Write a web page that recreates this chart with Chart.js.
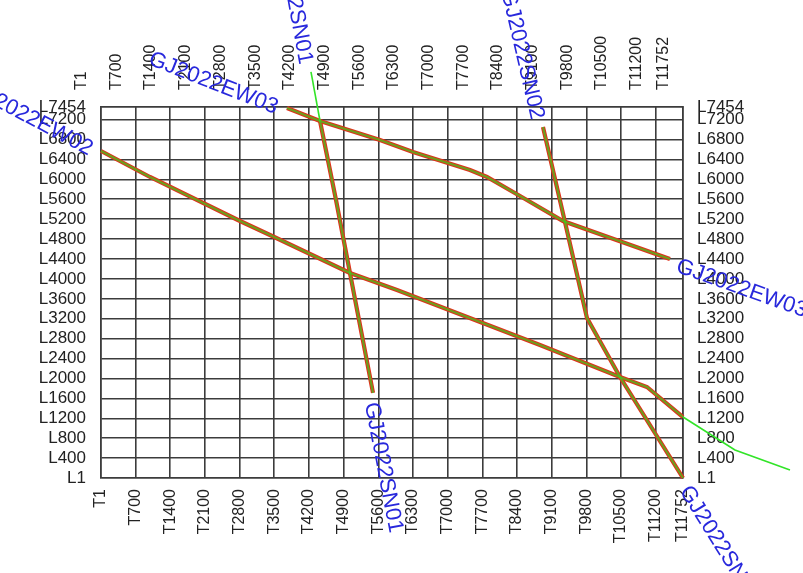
<!DOCTYPE html>
<html>
<head>
<meta charset="utf-8">
<script src="https://cdn.jsdelivr.net/npm/chart.js@4/dist/chart.umd.min.js"></script>
<style>
html,body{margin:0;padding:0;background:#fff}
#wrap{width:803px;height:573px;position:relative}
</style>
</head>
<body>
<div id="wrap"><canvas id="c"></canvas></div>
<script>
// Axis ticks (trace numbers T..., line numbers L...)
const xTicks = [1,700,1400,2100,2800,3500,4200,4900,5600,6300,7000,7700,8400,9100,9800,10500,11200,11752];
const yTicks = [1,400,800,1200,1600,2000,2400,2800,3200,3600,4000,4400,4800,5200,5600,6000,6400,6800,7200,7454];

// Survey line names
const lineNames = ['GJ2022EW03','GJ2022EW02','GJ2022SN01','GJ2022SN02'];

// Planned (red) paths: trace / line
const ew03PlanT = [3756,4423,5634,6300,7451,7794,8461,9329,11489];
const ew03PlanL = [7434,7173,6791,6550,6189,6048,5666,5164,4401];
const ew02PlanT = [1,990,2807,3413,5028,5977,8864,10480,11025,11752];
const ew02PlanL = [6570,6048,5164,4883,4119,3778,2673,2030,1829,1226];
const sn01PlanT = [4423,4746,5028,5493];
const sn01PlanL = [7173,5586,4119,1709];
const sn02PlanT = [8925,9369,9753,9813,10480,11752];
const sn02PlanL = [7053,5144,3477,3215,2030,1];

// Actual (green) paths: trace / line
const ew03ActT = [3756,4423,5634,6300,7451,7794,8461,9329,11489];
const ew03ActL = [7434,7173,6791,6550,6189,6048,5666,5164,4401];
const ew02ActT = [1,990,2807,3413,5028,5977,8864,10480,11025,11752,12801,13912];
const ew02ActL = [6570,6048,5164,4883,4119,3778,2673,2030,1829,1226,564,162];
const sn01ActT = [4241,4423,4746,5028,5493];
const sn01ActL = [8158,7173,5586,4119,1709];
const sn02ActT = [8925,9369,9753,9813,10480,11752];
const sn02ActL = [7053,5144,3477,3215,2030,1];

const surveyLines = [
  {name:lineNames[0], pT:ew03PlanT, pL:ew03PlanL, aT:ew03ActT, aL:ew03ActL, endLabel:true},
  {name:lineNames[1], pT:ew02PlanT, pL:ew02PlanL, aT:ew02ActT, aL:ew02ActL, endLabel:false},
  {name:lineNames[2], pT:sn01PlanT, pL:sn01PlanL, aT:sn01ActT, aL:sn01ActL, endLabel:true},
  {name:lineNames[3], pT:sn02PlanT, pL:sn02PlanL, aT:sn02ActT, aL:sn02ActL, endLabel:true}
];

const xMax = xTicks[xTicks.length - 1], yMax = yTicks[yTicks.length - 1];
const toPts = (T, L) => T.map((t, i) => ({x: t, y: L[i]}));
const outside = d => d.x > xMax || d.y > yMax || d.x < xTicks[0] || d.y < yTicks[0];

const datasets = [];
surveyLines.forEach(s => {
  const act = toPts(s.aT, s.aL);
  datasets.push({label: s.name + ' actual', data: act, borderColor: 'rgba(40,225,30,0.62)',
    segment: {
      borderColor: c => (outside(act[c.p0DataIndex]) || outside(act[c.p1DataIndex])) ? 'rgb(50,228,40)' : 'rgba(40,225,30,0.62)',
      borderWidth: c => (outside(act[c.p0DataIndex]) || outside(act[c.p1DataIndex])) ? 1.6 : 2.2
    },
    borderWidth: 2.2, pointRadius: 0, showLine: true, tension: 0, clip: false, order: 0, xAxisID:'x', yAxisID:'y'});
  datasets.push({label: s.name + ' planned', data: toPts(s.pT, s.pL), borderColor: '#e0301c',
    borderWidth: 4.2, pointRadius: 0, showLine: true, tension: 0, clip: false, order: 1, xAxisID:'x', yAxisID:'y'});
});

const lineLabels = {
  id: 'lineLabels',
  afterDatasetsDraw(chart) {
    const {ctx} = chart;
    const xs = chart.scales.x, ys = chart.scales.y;
    ctx.save();
    ctx.font = '22px "Liberation Sans", Arial, sans-serif';
    ctx.fillStyle = '#2828dc';
    ctx.textBaseline = 'middle';
    const gap = 9, off = 4;
    surveyLines.forEach(s => {
      const pts = s.aT.map((t, i) => ({x: xs.getPixelForValue(t), y: ys.getPixelForValue(s.aL[i])}));
      // start label
      let p0 = pts[0], p1 = pts[1];
      let a = Math.atan2(p1.y - p0.y, p1.x - p0.x);
      ctx.save();
      ctx.translate(p0.x - gap * Math.cos(a), p0.y - gap * Math.sin(a));
      ctx.rotate(a);
      ctx.textAlign = 'right';
      ctx.fillText(s.name, 0, off);
      ctx.restore();
      if (!s.endLabel) return;
      // end label
      const n = pts.length;
      p0 = pts[n - 2]; p1 = pts[n - 1];
      a = Math.atan2(p1.y - p0.y, p1.x - p0.x);
      ctx.save();
      ctx.translate(p1.x + gap * Math.cos(a), p1.y + gap * Math.sin(a));
      ctx.rotate(a);
      ctx.textAlign = 'left';
      ctx.fillText(s.name, 0, off);
      ctx.restore();
    });
    ctx.restore();
  }
};

const gridColor = '#3c3c3c';
const setTicks = vals => scale => {
  scale.ticks = vals.map(v => ({value: v}));
  scale.min = vals[0];
  scale.max = vals[vals.length - 1];
};
const setLimits = vals => scale => { scale.min = vals[0]; scale.max = vals[vals.length - 1]; };

function xScale(pos, size, pad, main) {
  return {
    type: 'linear', position: pos, bounds: 'data',
    afterDataLimits: setLimits(xTicks),
    afterBuildTicks: setTicks(xTicks),
    afterFit: s => { s.height = size; },
    grid: {display: true, drawOnChartArea: main, drawTicks: false, color: gridColor, lineWidth: 1.6},
    border: {display: true, color: gridColor, width: 1.6},
    ticks: {autoSkip: false, minRotation: 90, maxRotation: 90, padding: pad, color: '#222',
      font: {size: 16, family: '"Liberation Sans", Arial, sans-serif'}, callback: v => 'T' + v}
  };
}
function yScale(pos, size, pad, main) {
  return {
    type: 'linear', position: pos, bounds: 'data',
    afterDataLimits: setLimits(yTicks),
    afterBuildTicks: setTicks(yTicks),
    afterFit: s => { s.width = size; },
    grid: {display: true, drawOnChartArea: main, drawTicks: false, color: gridColor, lineWidth: 1.6},
    border: {display: true, color: gridColor, width: 1.6},
    ticks: {autoSkip: false, padding: pad, color: '#222',
      font: {size: 17, family: '"Liberation Sans", Arial, sans-serif'}, callback: v => 'L' + v}
  };
}

new Chart(document.getElementById('c'), {
  type: 'line',
  data: {datasets},
  options: {
    responsive: true, maintainAspectRatio: false, animation: false,
    layout: {padding: 0},
    plugins: {legend: {display: false}, tooltip: {enabled: false}},
    scales: {
      x: xScale('bottom', 95, 11, true),
      x2: xScale('top', 107, 17, false),
      y: yScale('left', 101, 15, true),
      y2: yScale('right', 120, 14, false)
    }
  },
  plugins: [lineLabels]
});
</script>
</body>
</html>
